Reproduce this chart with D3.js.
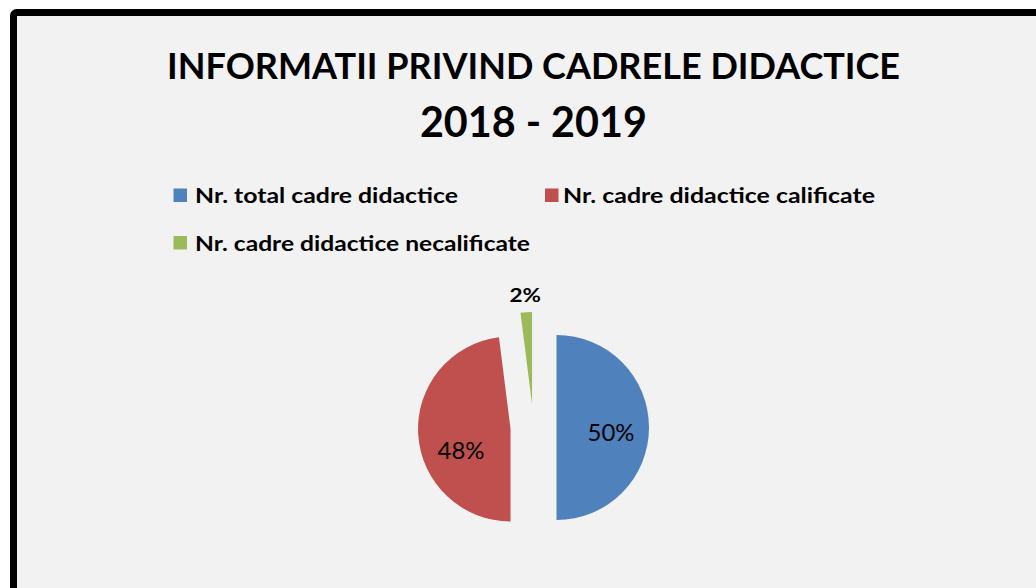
<!DOCTYPE html>
<html>
<head>
<meta charset="utf-8">
<script src="https://cdn.jsdelivr.net/npm/d3@7"></script>
<style>
  html, body { margin: 0; padding: 0; background: #ffffff; }
  svg { display: block; }
  text { font-family: Lato, "Open Sans", "DejaVu Sans", sans-serif; fill: #000; }
</style>
</head>
<body>
<svg id="chart" width="1036" height="588"></svg>
<script>
// ---- data ----
const titleLines = ["INFORMATII PRIVIND CADRELE DIDACTICE", "2018 - 2019"];
const categories = [
  "Nr. total cadre didactice",
  "Nr. cadre didactice calificate",
  "Nr. cadre didactice necalificate"
];
const values = [50, 48, 2];
const colors = ["#4f81bd", "#c0504d", "#9bbb59"];

// ---- drawing ----
const svg = d3.select("#chart");
const W = 1036, H = 588;

// frame
svg.append("rect")
  .attr("x", 13.5).attr("y", 12.5)
  .attr("width", W + 20).attr("height", H + 20)
  .attr("rx", 3)
  .attr("fill", "#f2f2f2")
  .attr("stroke", "#000").attr("stroke-width", 7);

function fit(sel, width) {
  sel.attr("textLength", width).attr("lengthAdjust", "spacingAndGlyphs");
  return sel;
}

// title
const t1 = svg.append("text")
  .attr("x", 533.6).attr("y", 79.3)
  .attr("text-anchor", "middle")
  .attr("font-size", 36).attr("font-weight", "bold")
  .text(titleLines[0]);
fit(t1, 733);
const t2 = svg.append("text")
  .attr("x", 533.4).attr("y", 136.7)
  .attr("text-anchor", "middle")
  .attr("font-size", 42).attr("font-weight", "bold")
  .text(titleLines[1]);
fit(t2, 227);

// legend
const legendPos = [
  { sx: 173.5, sy: 188.5, tx: 195, ty: 203, w: 263 },
  { sx: 545,   sy: 188.5, tx: 563, ty: 203, w: 312 },
  { sx: 173.5, sy: 236,   tx: 195, ty: 250.5, w: 335 }
];
const lg = svg.append("g").selectAll("g")
  .data(categories).join("g");
lg.append("rect")
  .attr("x", (d, i) => legendPos[i].sx)
  .attr("y", (d, i) => legendPos[i].sy)
  .attr("width", 13.5).attr("height", 13.5)
  .attr("fill", (d, i) => colors[i]);
lg.append("text")
  .attr("x", (d, i) => legendPos[i].tx)
  .attr("y", (d, i) => legendPos[i].ty)
  .attr("font-size", 21).attr("font-weight", "bold")
  .text(d => d)
  .each(function (d, i) { fit(d3.select(this), legendPos[i].w); });

// pie
const cx = 533.5, cy = 427.5, R = 92.5, explode = 23;
const pie = d3.pie().sort(null).value(d => d).startAngle(0).endAngle(2 * Math.PI);
const arcs = pie(values);
const arc = d3.arc().innerRadius(0).outerRadius(R);

function offset(a, dist) {
  const m = (a.startAngle + a.endAngle) / 2;
  return [Math.sin(m) * dist, -Math.cos(m) * dist];
}

const g = svg.append("g").attr("transform", `translate(${cx},${cy})`);
g.selectAll("path")
  .data(arcs).join("path")
  .attr("d", arc)
  .attr("fill", (d, i) => colors[i])
  .attr("transform", d => {
    const [ox, oy] = offset(d, explode);
    return `translate(${ox},${oy})`;
  });

// labels
const labelNudge = [[0, 4], [5, 17.5], [0, 0]];
g.selectAll("text.lbl")
  .data(arcs).join("text")
  .attr("class", "lbl")
  .attr("text-anchor", "middle")
  .attr("dominant-baseline", "central")
  .attr("font-size", (d, i) => i === 2 ? 19 : 24)
  .attr("font-weight", (d, i) => i === 2 ? "bold" : "normal")
  .attr("transform", (d, i) => {
    const [ox, oy] = offset(d, explode);
    const [lx, ly] = offset(d, i === 2 ? R * 1.19 : R * 0.59);
    return `translate(${ox + lx + labelNudge[i][0]},${oy + ly + labelNudge[i][1]})`;
  })
  .text(d => Math.round(d.value / d3.sum(values) * 100) + "%")
  .each(function (d, i) { fit(d3.select(this), i === 2 ? 31.5 : 47); });
</script>
</body>
</html>
